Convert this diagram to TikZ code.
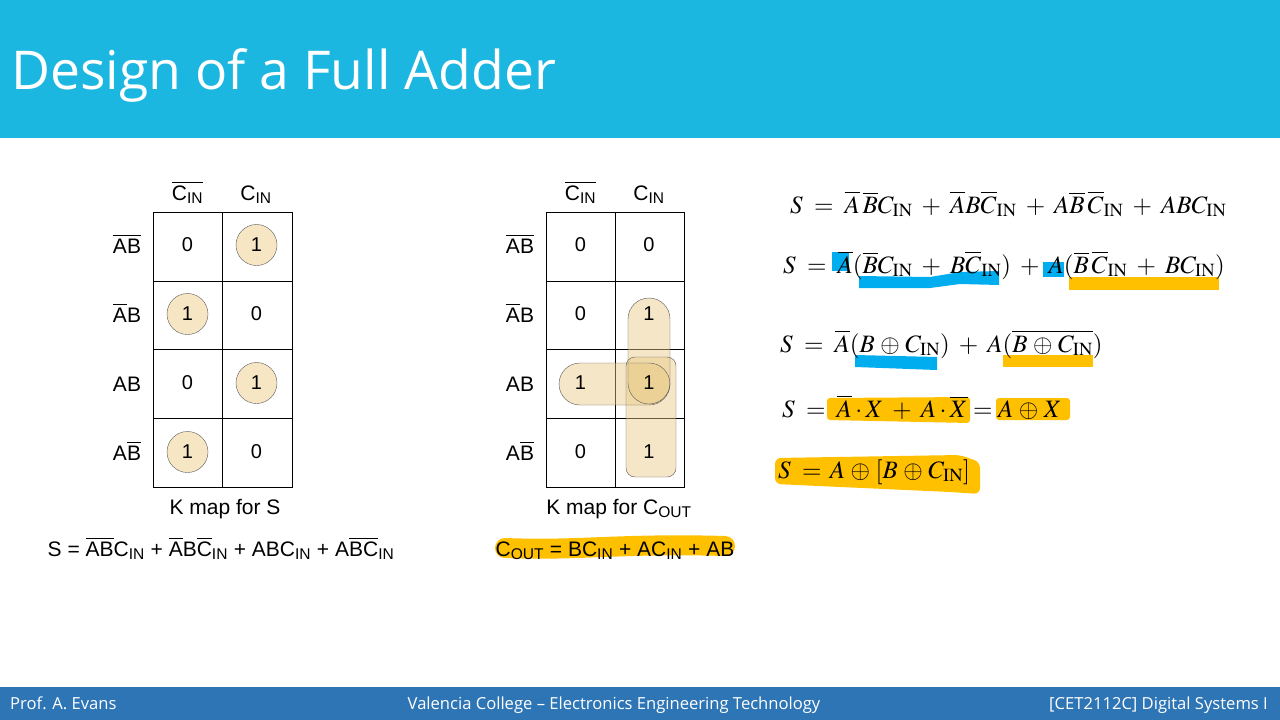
\documentclass[tikz,border=0pt]{standalone}
\usepackage[no-math]{fontspec}
\usepackage{mathptmx}
\setmainfont{Liberation Sans}
\newfontfamily\slidefont{Open Sans}
\usetikzlibrary{positioning}

\definecolor{titlebar}{RGB}{27,183,224}
\definecolor{footbar}{RGB}{46,117,182}
\definecolor{hlblue}{RGB}{0,174,239}
\definecolor{hlyellow}{RGB}{255,192,0}
\definecolor{loopfill}{RGB}{247,230,196}
\definecolor{loopgold}{RGB}{232,200,130}

\newcommand{\ob}[1]{$\overline{\mbox{#1}}$}
\newcommand{\cin}{C\textsubscript{IN}}
\newcommand{\IN}{_{\mathrm{IN}}}
\newcommand{\xor}{\mskip1.5mu\oplus\mskip1.5mu}

\begin{document}
\begin{tikzpicture}[x=1pt,y=-1pt,
    cell/.style={font=\fontsize{20}{24}\selectfont,inner sep=0pt},
    lbl/.style={anchor=base,font=\fontsize{21}{25}\selectfont,inner sep=0pt},
    one/.style={circle,draw=black!65,fill=loopfill,minimum size=41pt,inner sep=0pt,font=\fontsize{20}{24}\selectfont},
    grp/.style={fill=loopgold,fill opacity=0.45},
    eqn/.style={anchor=base west,font=\fontsize{25}{29}\selectfont,inner sep=0pt},
    foot/.style={anchor=base,text=white,font=\slidefont\fontsize{16.6}{20}\selectfont,inner sep=0pt}
]
\useasboundingbox (0,0) rectangle (1280,720);

% title and footer bars
\fill[titlebar] (0,0) rectangle (1280,138);
\node[anchor=base west,text=white,font=\slidefont\fontsize{53.5}{64}\selectfont,inner sep=0pt] (title) at (11,89) {Design of a Full Adder};
\fill[footbar] (0,687) rectangle (1280,720);
\node[foot,anchor=base west] (author) at (10,709) {Prof. A. Evans};
\node[foot] (college) at (614,709) {Valencia College – Electronics Engineering Technology};
\node[foot,anchor=base east] (course) at (1268,709) {[CET2112C] Digital Systems I};

% K map for S
\draw[thick] (153,212) rectangle (292,487);
\draw[thick] (222.5,212) -- (222.5,487);
\foreach \y in {281,349.5,418} \draw[thick] (153,\y) -- (292,\y);
\node[lbl] (sc0) at (187.5,200) {\ob{\cin}};
\node[lbl] (sc1) at (256,200) {\cin};
\node[lbl] (sr1) at (127,253) {\ob{A}\ob{B}};
\node[lbl] (sr2) at (127,322) {\ob{A}B};
\node[lbl] (sr3) at (127,391) {AB};
\node[lbl] (sr4) at (127,460) {A\ob{B}};
\node[cell] (s11) at (187.5,245) {0};
\node[one] (s12) at (256.5,245) {1};
\node[one] (s21) at (187.5,314) {1};
\node[cell] (s22) at (256.5,314) {0};
\node[cell] (s31) at (187.5,383) {0};
\node[one] (s32) at (256.5,383) {1};
\node[one] (s41) at (187.5,452) {1};
\node[cell] (s42) at (256.5,452) {0};
\node[lbl] (scap) at (225,514) {K map for S};
\node[lbl] (seq) at (221,556) {S = \ob{A}\ob{B}\cin{} + \ob{A}B\ob{C}\textsubscript{IN} + ABC\textsubscript{IN} + A\ob{B}\ob{C}\textsubscript{IN}};

% K map for C_OUT
\draw[hlyellow,line width=20pt,line cap=round,line join=round] (505,548) .. controls (580,551) and (620,543) .. (725,546);
\draw[thick] (546,212) rectangle (684,487);
\draw[thick] (615,212) -- (615,487);
\foreach \y in {281,349.5,418} \draw[thick] (546,\y) -- (684,\y);
\node[lbl] (cc0) at (580.5,200) {\ob{\cin}};
\node[lbl] (cc1) at (649,200) {\cin};
\node[lbl] (cr1) at (520,253) {\ob{AB}};
\node[lbl] (cr2) at (520,322) {\ob{A}B};
\node[lbl] (cr3) at (520,391) {AB};
\node[lbl] (cr4) at (520,460) {A\ob{B}};
\fill[grp,rounded corners=21pt] (628,298) rectangle (670,404);
\fill[grp,rounded corners=21pt] (559,363) rectangle (670,405);
\fill[grp,rounded corners=9pt] (626,357) rectangle (676,477);
\draw[black!65,rounded corners=21pt] (628,298) rectangle (670,404);
\draw[black!65,rounded corners=21pt] (559,363) rectangle (670,405);
\draw[black!65,rounded corners=9pt] (626,357) rectangle (676,477);
\node[cell] (c11) at (580.5,245) {0};
\node[cell] (c12) at (649,245) {0};
\node[cell] (c21) at (580.5,314) {0};
\node[cell] (c22) at (649,314) {1};
\node[cell] (c31) at (580.5,383) {1};
\node[cell] (c32) at (649,383) {1};
\node[cell] (c41) at (580.5,452) {0};
\node[cell] (c42) at (649,452) {1};
\node[lbl] (ccap) at (619,514) {K map for C\textsubscript{OUT}};
\node[lbl] (ceq) at (615,556) {C\textsubscript{OUT} = BC\textsubscript{IN} + AC\textsubscript{IN} + AB};

% highlighter marks
\fill[hlblue] (832,252) rectangle (849,271);
\fill[hlblue] (859,276) -- (930,277) -- (960,272) -- (999,271) -- (999,285) -- (960,284) -- (930,288) -- (859,288) -- cycle;
\fill[hlblue] (1043,262) rectangle (1064,277);
\fill[hlyellow] (1069,277) rectangle (1219,290);
\fill[hlblue] (855,355) -- (937,357) -- (937,370) -- (855,367) -- cycle;
\fill[hlyellow] (1003,355) rectangle (1093,367);
\fill[hlyellow,rounded corners=3pt] (827,398) -- (970,397) -- (970,423) -- (827,420) -- cycle;
\fill[hlyellow,rounded corners=3pt] (996,398) rectangle (1070,420);
\fill[hlyellow,rounded corners=6pt] (775,458) -- (960,455) -- (980,462) -- (980,494) -- (950,492) -- (775,484) -- cycle;

% derivation
\node[eqn] (eq1) at (790,213) {$S \;=\; \overline{A}\,\overline{B}C\IN \;+\; \overline{A}B\overline{C}\IN \;+\; A\overline{B}\,\overline{C}\IN \;+\; ABC\IN$};
\node[eqn] (eq2) at (783,273) {$S \;=\; \overline{A}(\overline{B}C\IN \;+\; B\overline{C}\IN) \;+\; A(\overline{B}\,\overline{C}\IN \;+\; BC\IN)$};
\node[eqn] (eq3) at (780,352) {$S \;=\; \overline{A}(B\xor C\IN) \;+\; A(\overline{B\xor C\IN})$};
\node[eqn] (eq4) at (782,417) {$S \;=\; \overline{A}\cdot X \;+\; A\cdot\overline{X} = A\xor X$};
\node[eqn] (eq5) at (778,478) {$S \;=\, A\xor[B\xor C\IN]$};
\end{tikzpicture}
\end{document}
